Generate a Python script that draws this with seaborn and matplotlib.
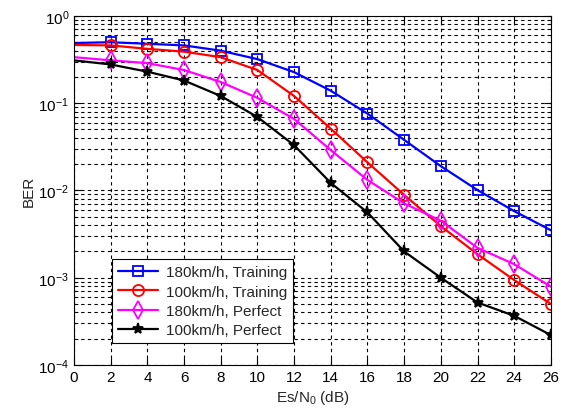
import numpy as np
import pandas as pd
import matplotlib
matplotlib.use("Agg")
import matplotlib.pyplot as plt
import seaborn as sns
from matplotlib.ticker import LogLocator, LogFormatterMathtext, MultipleLocator, NullFormatter

snr_db = [0, 2, 4, 6, 8, 10, 12, 14, 16, 18, 20, 22, 24, 26]
ber_180_training = [0.49, 0.50, 0.48, 0.46, 0.40, 0.32, 0.227, 0.139, 0.076, 0.038, 0.019, 0.0101, 0.0058, 0.0035]
ber_100_training = [0.465, 0.46, 0.42, 0.39, 0.337, 0.24, 0.121, 0.051, 0.021, 0.0089, 0.0039, 0.00186, 0.00094, 0.0005]
ber_180_perfect = [0.337, 0.31, 0.288, 0.24, 0.175, 0.115, 0.066, 0.029, 0.0132, 0.0071, 0.0045, 0.0022, 0.00143, 0.00079]
ber_100_perfect = [0.31, 0.278, 0.23, 0.182, 0.121, 0.0695, 0.033, 0.0122, 0.0056, 0.002, 0.001, 0.00052, 0.000366, 0.00022]
labels = ["180km/h, Training", "100km/h, Training", "180km/h, Perfect", "100km/h, Perfect"]

sns.set_style("ticks")
plt.rcParams['font.family'] = ['Liberation Sans', 'DejaVu Sans']
plt.rcParams['mathtext.default'] = 'regular'

fig = plt.figure(figsize=(5.65, 4.14), dpi=100)
ax = fig.add_axes([0.131, 0.116, 0.844, 0.843])

series = [ber_180_training, ber_100_training, ber_180_perfect, ber_100_perfect]
colors = ["#0000ff", "#ff0000", "#ff00ff", "#000000"]
markers = ["s", "o", "d", "*"]
msizes = [7, 8, 9, 8]
mark_idx = list(range(1, len(snr_db)))
for vals, lab, c, m, ms in zip(series, labels, colors, markers, msizes):
    df = pd.DataFrame({"x": snr_db, "y": vals})
    face = c if m == "*" else "none"
    sns.lineplot(data=df, x="x", y="y", ax=ax, color=c, linewidth=1.6,
                 marker=m, markersize=ms, markerfacecolor=face, markevery=mark_idx,
                 markeredgecolor=c, markeredgewidth=1.3, label=lab)

ax.set_yscale("log")
ax.set_xlim(0, 26)
ax.set_ylim(1e-4, 1e0)
ax.xaxis.set_major_locator(MultipleLocator(2))
ax.yaxis.set_major_locator(LogLocator(base=10, numticks=10))
ax.yaxis.set_minor_locator(LogLocator(base=10, subs=np.arange(2, 10), numticks=20))
ax.yaxis.set_major_formatter(LogFormatterMathtext())
ax.yaxis.set_minor_formatter(NullFormatter())

ax.grid(True, which="major", axis="both", color="black", linestyle=(0, (3, 3)), linewidth=0.8)
ax.grid(True, which="minor", axis="y", color="black", linestyle=(0, (3, 3)), linewidth=0.8)
ax.tick_params(which="both", direction="in", top=True, right=True, labelsize=11, colors="black")
ax.tick_params(which="major", length=5)
ax.tick_params(which="minor", length=3)
for s in ax.spines.values():
    s.set_color("black")
    s.set_linewidth(0.8)

ax.set_xlabel("Es/N$_0$ (dB)", fontsize=11, labelpad=3)
ax.set_ylabel("BER", fontsize=11, labelpad=2)

leg = ax.legend(loc="lower left", bbox_to_anchor=(0.064, 0.04), fontsize=11,
                frameon=True, fancybox=False, edgecolor="black", framealpha=1,
                handlelength=2.6, borderpad=0.4, labelspacing=0.35, handletextpad=0.5)
leg.get_frame().set_linewidth(0.8)

fig.savefig("out.png", dpi=100)
